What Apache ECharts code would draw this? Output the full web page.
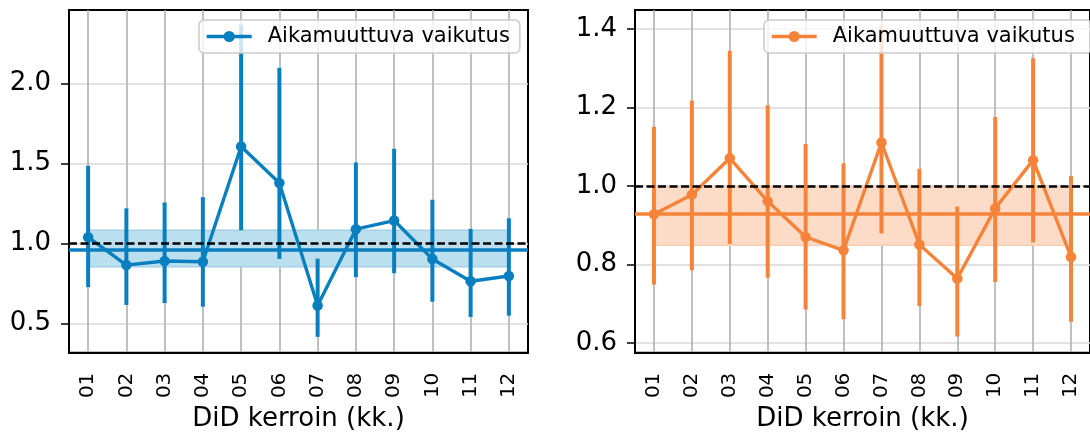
<!DOCTYPE html>
<html><head><meta charset="utf-8">
<script src="https://cdn.jsdelivr.net/npm/echarts@6/dist/echarts.min.js"></script>
<style>html,body{margin:0;padding:0;background:#fff}#c{width:1090px;height:437px}</style>
</head><body><div id="c"></div>
<script>
const categories = ['01','02','03','04','05','06','07','08','09','10','11','12'];
const seriesName = 'Aikamuuttuva vaikutus';
const xLabel = 'DiD kerroin (kk.)';

const leftEstimate = [1.039, 0.865, 0.890, 0.886, 1.605, 1.378, 0.613, 1.089, 1.143, 0.903, 0.764, 0.797];
const leftLower    = [0.727, 0.616, 0.628, 0.605, 1.082, 0.903, 0.417, 0.789, 0.814, 0.636, 0.541, 0.549];
const leftUpper    = [1.485, 1.219, 1.256, 1.289, 2.366, 2.097, 0.905, 1.506, 1.591, 1.273, 1.091, 1.157];
const leftPooled = [0.958, 0.855, 1.082]; // estimate, low, high
const leftTicks = [0.5, 1.0, 1.5, 2.0];
const leftRange = [0.318, 2.458];

const rightEstimate = [0.928, 0.978, 1.071, 0.961, 0.870, 0.836, 1.111, 0.851, 0.764, 0.943, 1.066, 0.819];
const rightLower    = [0.749, 0.785, 0.852, 0.766, 0.685, 0.660, 0.879, 0.694, 0.616, 0.755, 0.856, 0.654];
const rightUpper    = [1.151, 1.218, 1.345, 1.206, 1.107, 1.058, 1.410, 1.044, 0.948, 1.176, 1.326, 1.025];
const rightPooled = [0.930, 0.849, 0.998];
const rightTicks = [0.6, 0.8, 1.0, 1.2, 1.4];
const rightRange = [0.575, 1.449];
const referenceValue = 1.0;

const BLUE = '#0a7fbf', BLUE_FILL = '#bbdfee', BLUE_EDGE = '#a3d2e8';
const ORANGE = '#f5843a', ORANGE_FILL = '#fcdcc6', ORANGE_EDGE = '#fbceb0';
const FONT = 'DejaVu Sans';

const chart = echarts.init(document.getElementById('c'), null, {renderer: 'canvas'});

function xAxis(gi) {
  return {
    type: 'category', gridIndex: gi, data: categories, boundaryGap: true,
    name: xLabel, nameLocation: 'middle', nameGap: 52,
    nameTextStyle: {fontFamily: FONT, fontSize: 26, color: '#000'},
    axisLine: {lineStyle: {color: '#000', width: 2}},
    axisTick: {alignWithLabel: true, length: 8, lineStyle: {color: '#000', width: 1.5}},
    axisLabel: {rotate: 90, margin: 20, fontFamily: FONT, fontSize: 20, color: '#000'},
    splitLine: {show: true, alignWithLabel: true, lineStyle: {color: '#ababab', width: 1.5}}
  };
}
function yAxis(gi, range, ticks) {
  return {
    type: 'value', gridIndex: gi, min: range[0], max: range[1],
    axisLine: {show: true, lineStyle: {color: '#000', width: 2}},
    axisTick: {show: true, length: 8, customValues: ticks, lineStyle: {color: '#000', width: 1.5}},
    axisLabel: {customValues: ticks, margin: 18, fontFamily: FONT, fontSize: 26, color: '#000',
      formatter: v => v.toFixed(1)},
    splitLine: {show: true, lineStyle: {color: '#d9d9d9', width: 1.5}}
  };
}
function errData(lo, hi) { return categories.map((c, i) => [i, lo[i], hi[i]]); }
function errSeries(gi, lo, hi, color) {
  return {
    type: 'custom', xAxisIndex: gi, yAxisIndex: gi, z: 3, silent: true,
    encode: {x: 0, y: [1, 2]},
    data: errData(lo, hi),
    renderItem: (params, api) => {
      const a = api.coord([api.value(0), api.value(1)]);
      const b = api.coord([api.value(0), api.value(2)]);
      return {type: 'line', shape: {x1: a[0], y1: a[1], x2: b[0], y2: b[1]},
        style: {stroke: color, lineWidth: 4}};
    }
  };
}
function lineSeries(gi, name, est, pooled, color, fill, edge) {
  return {
    type: 'line', name: name, xAxisIndex: gi, yAxisIndex: gi, z: 4,
    data: est, symbol: 'circle', symbolSize: 10.5, showSymbol: true,
    itemStyle: {color: color},
    lineStyle: {color: color, width: 3.4},
    markArea: {silent: true, z: 1,
      itemStyle: {color: fill, borderColor: edge, borderWidth: 1.5, opacity: 1},
      data: [[{xAxis: categories[0], yAxis: pooled[1]}, {xAxis: categories[categories.length - 1], yAxis: pooled[2]}]]},
    markLine: {silent: true, symbol: ['none', 'none'], label: {show: false},
      data: [
        {yAxis: pooled[0], lineStyle: {color: color, width: 3.6, type: 'solid'}},
        {yAxis: referenceValue, lineStyle: {color: '#000', width: 2.6, type: [8, 3.5]}}
      ]}
  };
}
function legend(left, name) {
  return {
    left: left, top: 20, data: [name], orient: 'horizontal',
    padding: [6, 10, 6, 6], itemWidth: 45, itemHeight: 14,
    lineStyle: {width: 3.4},
    backgroundColor: 'rgba(255,255,255,0.8)', borderColor: '#cccccc', borderWidth: 1.5, borderRadius: 5,
    textStyle: {fontFamily: FONT, fontSize: 21, color: '#000', padding: [0, 0, 0, 11]},
    selectedMode: false
  };
}

chart.setOption({
  animation: false,
  backgroundColor: '#fff',
  grid: [
    {left: 69, right: 562, top: 10, bottom: 81.5, show: true, borderColor: '#000', borderWidth: 2, backgroundColor: 'transparent'},
    {left: 635, right: -4, top: 10, bottom: 81.5, show: true, borderColor: '#000', borderWidth: 2, backgroundColor: 'transparent'}
  ],
  legend: [legend(199, seriesName), legend(764, seriesName + ' ')],
  xAxis: [xAxis(0), xAxis(1)],
  yAxis: [yAxis(0, leftRange, leftTicks), yAxis(1, rightRange, rightTicks)],
  series: [
    errSeries(0, leftLower, leftUpper, BLUE),
    lineSeries(0, seriesName, leftEstimate, leftPooled, BLUE, BLUE_FILL, BLUE_EDGE),
    errSeries(1, rightLower, rightUpper, ORANGE),
    lineSeries(1, seriesName + ' ', rightEstimate, rightPooled, ORANGE, ORANGE_FILL, ORANGE_EDGE)
  ]
});
</script></body></html>
